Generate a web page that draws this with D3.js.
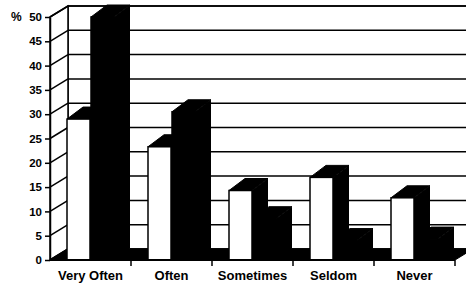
<!DOCTYPE html>
<html>
<head>
<meta charset="utf-8">
<script src="https://cdn.jsdelivr.net/npm/d3@7"></script>
<style>
  body { margin: 0; background: #fff; }
  svg text { font-family: "Liberation Sans", Arial, sans-serif; font-weight: bold; fill: #000; }
</style>
</head>
<body>
<div id="chart"></div>
<script>
// chart values
var categories = ['Very Often', 'Often', 'Sometimes', 'Seldom', 'Never'];
var whiteValues = [29, 23.3, 14.3, 17, 12.8];
var blackValues = [50, 30.5, 8.5, 4, 4.3];
var yTicks = [0, 5, 10, 15, 20, 25, 30, 35, 40, 45, 50];

var width = 466, height = 289;

var svg = d3.select('#chart')
    .append('svg')
    .attr('width', width)
    .attr('height', height);

var x = d3.scaleBand()
    .domain(categories)
    .range([50, 455]);

var y = d3.scaleLinear()
    .domain([0, 50])
    .range([260, 17]);

// depth of walls and bars
var wdx = 18, wdy = -11;
var bdx = 16, bdy = -12;

var line = function(pts) { return 'M' + pts.map(function(p) { return p.join(','); }).join('L') + 'Z'; };

// back wall
svg.append('rect')
    .attr('x', x.range()[0] + wdx)
    .attr('y', y(50) + wdy)
    .attr('width', width)
    .attr('height', y(0) - y(50))
    .attr('fill', '#fff')
    .attr('stroke', '#000')
    .attr('stroke-width', 1.5);

svg.selectAll('.grid')
    .data(yTicks)
    .enter()
    .append('line')
    .attr('class', 'grid')
    .attr('x1', x.range()[0] + wdx)
    .attr('x2', width)
    .attr('y1', function(d) { return y(d) + wdy; })
    .attr('y2', function(d) { return y(d) + wdy; })
    .attr('stroke', '#000')
    .attr('stroke-width', 1.5);

// left wall
var x0 = x.range()[0];
svg.append('path')
    .attr('d', line([[x0, y(0)], [x0 + wdx, y(0) + wdy], [x0 + wdx, y(50) + wdy], [x0, y(50)]]))
    .attr('fill', '#fff')
    .attr('stroke', '#000')
    .attr('stroke-width', 1.5);

svg.selectAll('.diag')
    .data(yTicks)
    .enter()
    .append('line')
    .attr('class', 'diag')
    .attr('x1', x0)
    .attr('x2', x0 + wdx)
    .attr('y1', function(d) { return y(d); })
    .attr('y2', function(d) { return y(d) + wdy; })
    .attr('stroke', '#000')
    .attr('stroke-width', 1.5);

// floor
var x1 = x.range()[1];
svg.append('path')
    .attr('d', line([[x0, y(0)], [x1, y(0)], [x1 + wdx, y(0) + wdy], [x0 + wdx, y(0) + wdy]]))
    .attr('fill', '#000')
    .attr('stroke', '#000');

// bars
function drawBar(g, bx, bw, v, fill) {
    g.append('path')
        .attr('d', line([[bx + bw, y(v)], [bx + bw + bdx, y(v) + bdy], [bx + bw + bdx, y(0) + bdy], [bx + bw, y(0)]]))
        .attr('fill', '#000');
    g.append('path')
        .attr('d', line([[bx, y(v)], [bx + bw, y(v)], [bx + bw + bdx, y(v) + bdy], [bx + bdx, y(v) + bdy]]))
        .attr('fill', '#000')
        .attr('stroke', '#000');
    g.append('rect')
        .attr('x', bx)
        .attr('y', y(v))
        .attr('width', bw)
        .attr('height', y(0) - y(v))
        .attr('fill', fill)
        .attr('stroke', '#000')
        .attr('stroke-width', 1.5);
}

categories.forEach(function(c, i) {
    var g = svg.append('g').attr('class', 'cat');
    drawBar(g, x(c) + 17, 23, whiteValues[i], '#fff');
    drawBar(g, x(c) + 41, 23, blackValues[i], '#000');
});

// front axis
var yAxis = d3.axisLeft(y)
    .tickValues(yTicks)
    .tickSize(5)
    .tickSizeOuter(0)
    .tickPadding(3);

var yG = svg.append('g')
    .attr('transform', 'translate(' + x0 + ',0)')
    .call(yAxis);
yG.selectAll('line, path').attr('stroke', '#000').attr('stroke-width', 1.5);
yG.selectAll('text').attr('font-size', 11.5).style('font-weight', 'bold');

svg.append('text')
    .attr('x', 11)
    .attr('y', 21)
    .attr('font-size', 12)
    .text('%');

// floor front edge and category ticks
svg.append('line')
    .attr('x1', x0).attr('x2', x1)
    .attr('y1', y(0)).attr('y2', y(0))
    .attr('stroke', '#000').attr('stroke-width', 2);

svg.selectAll('.xtick')
    .data(categories)
    .enter()
    .append('line')
    .attr('class', 'xtick')
    .attr('x1', function(d) { return x(d) + x.bandwidth(); })
    .attr('x2', function(d) { return x(d) + x.bandwidth(); })
    .attr('y1', y(0))
    .attr('y2', y(0) + 6)
    .attr('stroke', '#000')
    .attr('stroke-width', 1.5);

svg.selectAll('.xlabel')
    .data(categories)
    .enter()
    .append('text')
    .attr('class', 'xlabel')
    .attr('x', function(d) { return x(d) + x.bandwidth() / 2; })
    .attr('y', 280)
    .attr('text-anchor', 'middle')
    .attr('font-size', 13)
    .text(function(d) { return d; });
</script>
</body>
</html>
